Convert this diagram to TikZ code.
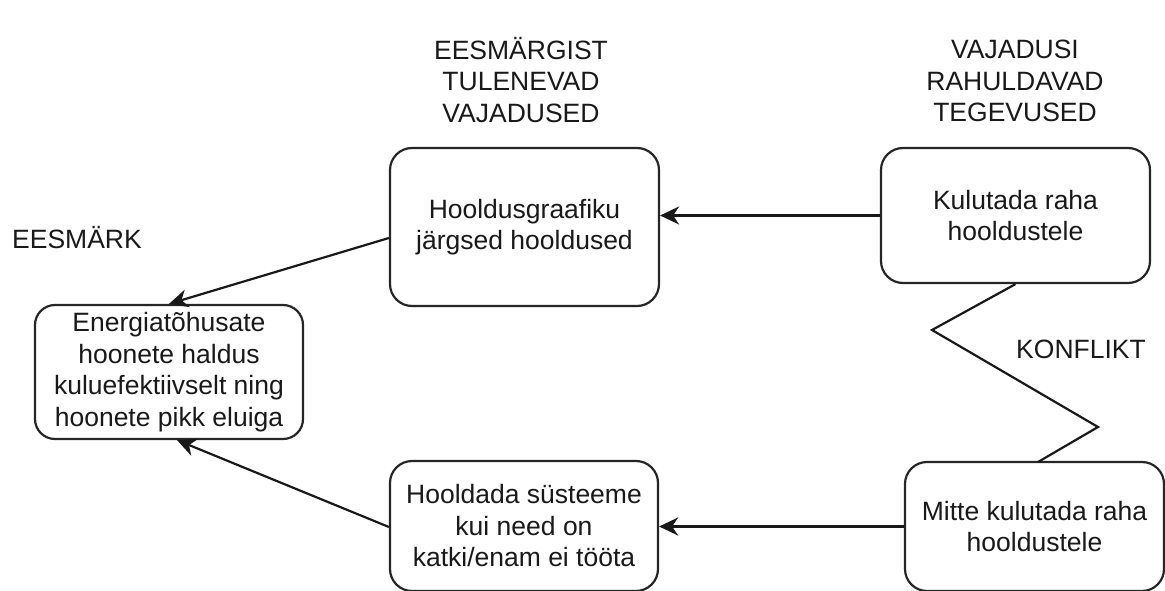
\documentclass[tikz,border=0pt]{standalone}
\usepackage{fontspec}
\setmainfont{Liberation Sans}
\usetikzlibrary{arrows.meta}
\begin{document}
\begin{tikzpicture}[x=1pt,y=-1pt,
  txt/.style={font=\fontsize{26.5}{31.5}\selectfont, align=center, inner sep=0pt, text=black!90},
  box/.style={txt, draw=black!85, line width=2.2pt, rounded corners=22pt},
  link/.style={draw=black!90, line width=2.2pt,
    -{Stealth[length=19pt,width=18pt,inset=6pt]}},
  zig/.style={draw=black!90, line width=2.2pt, line join=miter}]
\useasboundingbox (0,0) rectangle (1165,591);

% column headings
\node[txt, anchor=west] (goalhead) at (12,238) {EESMÄRK};
\node[txt] (needhead) at (521,80) {EESMÄRGIST\\TULENEVAD\\VAJADUSED};
\node[txt] (acthead) at (1015,81) {VAJADUSI\\RAHULDAVAD\\TEGEVUSED};

% boxes
\node[box, minimum width=268pt, minimum height=134pt, rounded corners=20pt]
  (goal) at (169,372) {Energiatõhusate\\hoonete haldus\\kuluefektiivselt ning\\hoonete pikk eluiga};
\node[box, minimum width=269pt, minimum height=158pt]
  (need1) at (524.5,227) {Hooldusgraafiku\\järgsed hooldused};
\node[box, minimum width=269pt, minimum height=135pt]
  (act1) at (1015.5,215.5) {Kulutada raha\\hooldustele};
\node[box, minimum width=268pt, minimum height=130pt]
  (need2) at (524,526) {Hooldada süsteeme\\kui need on\\katki/enam ei tööta};
\node[box, minimum width=259pt, minimum height=129pt]
  (act2) at (1034.5,526.5) {Mitte kulutada raha\\hooldustele};

% conflict zigzag
\coordinate (z1) at (932,330);
\coordinate (z2) at (1098,427);
\coordinate (z3) at (1038,462);
\draw[zig] (act1.south) -- (z1) -- (z2) -- (z3);
\node[txt] (conflict) at (1081,349) {KONFLIKT};

% connectors
\draw[link] (act1.west) -- (act1.west -| need1.east);
\draw[link] (act2.west) -- (act2.west -| need2.east);
\draw[link] ([yshift=-11pt]need1.west) -- (goal.north);
\draw[link] ([yshift=-1pt]need2.west) -- ([xshift=8pt]goal.south);
\end{tikzpicture}
\end{document}
